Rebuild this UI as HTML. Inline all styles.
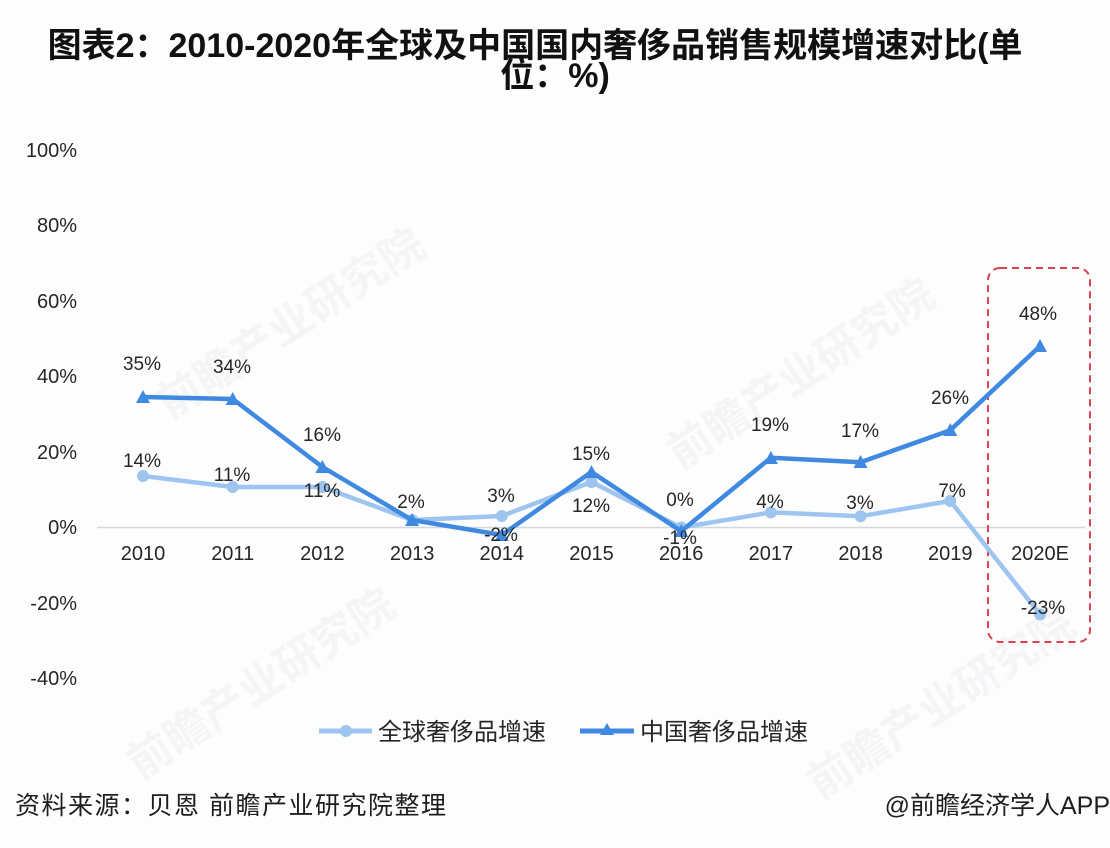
<!DOCTYPE html>
<html>
<head>
<meta charset="utf-8">
<style>
  html,body{margin:0;padding:0;background:#fff;}
  svg{display:block;}
  text{font-family:"Liberation Sans","Noto Sans CJK SC",sans-serif;fill:#262626;}
</style>
</head>
<body>
<svg width="1110" height="848" viewBox="0 0 1110 848" xmlns="http://www.w3.org/2000/svg">
  <rect x="0" y="0" width="1110" height="848" fill="#fdfdfe"/>

  <!-- faint watermarks -->
  <g font-size="44" font-weight="bold">
    <text x="0" y="0" transform="translate(170,420) rotate(-33)" style="fill:#f4f5f7">前瞻产业研究院</text>
    <text x="0" y="0" transform="translate(680,470) rotate(-33)" style="fill:#f4f5f7">前瞻产业研究院</text>
    <text x="0" y="0" transform="translate(140,780) rotate(-33)" style="fill:#f4f5f7">前瞻产业研究院</text>
    <text x="0" y="0" transform="translate(820,800) rotate(-33)" style="fill:#f4f5f7">前瞻产业研究院</text>
  </g>

  <!-- title -->
  <g font-size="34" font-weight="bold">
    <text x="535" y="57" text-anchor="middle" style="fill:#111">图表2：2010-2020年全球及中国国内奢侈品销售规模增速对比(单</text>
    <text x="555" y="87" text-anchor="middle" style="fill:#111">位：%)</text>
  </g>

  <!-- y axis labels -->
  <g font-size="20" text-anchor="end">
    <text x="77" y="157">100%</text>
    <text x="77" y="232">80%</text>
    <text x="77" y="308">60%</text>
    <text x="77" y="383">40%</text>
    <text x="77" y="459">20%</text>
    <text x="77" y="534">0%</text>
    <text x="77" y="610">-20%</text>
    <text x="77" y="685">-40%</text>
  </g>

  <!-- zero axis -->
  <line x1="97" y1="527.5" x2="1085" y2="527.5" stroke="#d3d7df" stroke-width="1.5"/>

  <!-- x labels -->
  <g font-size="20" text-anchor="middle">
    <text x="143" y="560">2010</text>
    <text x="232.7" y="560">2011</text>
    <text x="322.4" y="560">2012</text>
    <text x="412.1" y="560">2013</text>
    <text x="501.8" y="560">2014</text>
    <text x="591.5" y="560">2015</text>
    <text x="681.2" y="560">2016</text>
    <text x="770.9" y="560">2017</text>
    <text x="860.6" y="560">2018</text>
    <text x="950.3" y="560">2019</text>
    <text x="1040" y="560">2020E</text>
  </g>

  <!-- red dashed box -->
  <rect x="988" y="268" width="102" height="374" rx="12" ry="12" fill="none" stroke="#d8444e" stroke-width="2" stroke-dasharray="7 5"/>

  <!-- global series -->
  <polyline fill="none" stroke="#9ec5f0" stroke-width="4.5" stroke-linejoin="round"
    points="143,476 232.7,487 322.4,487 412.1,520 501.8,516 591.5,482 681.2,527.5 770.9,512.4 860.6,516.2 950.3,501 1040,614.4"/>
  <g fill="#9ec5f0">
    <circle cx="143" cy="476" r="6"/>
    <circle cx="232.7" cy="487" r="6"/>
    <circle cx="322.4" cy="487" r="6"/>
    <circle cx="412.1" cy="520" r="6"/>
    <circle cx="501.8" cy="516" r="6"/>
    <circle cx="591.5" cy="482" r="6"/>
    <circle cx="681.2" cy="527.5" r="6"/>
    <circle cx="770.9" cy="512.4" r="6"/>
    <circle cx="860.6" cy="516.2" r="6"/>
    <circle cx="950.3" cy="501" r="6"/>
    <circle cx="1040" cy="614.4" r="6"/>
  </g>

  <!-- china series -->
  <polyline fill="none" stroke="#3f8ae0" stroke-width="4.5" stroke-linejoin="round"
    points="143,397 232.7,399 322.4,467 412.1,520 501.8,535 591.5,472 681.2,531.3 770.9,457.7 860.6,462.2 950.3,430.2 1040,346.1"/>
  <g fill="#3f8ae0">
    <polygon points="143,390 150,403 136,403"/>
    <polygon points="232.7,392 239.7,405 225.7,405"/>
    <polygon points="322.4,460 329.4,473 315.4,473"/>
    <polygon points="412.1,513 419.1,526 405.1,526"/>
    <polygon points="501.8,528 508.8,541 494.8,541"/>
    <polygon points="591.5,465 598.5,478 584.5,478"/>
    <polygon points="681.2,524 688.2,537 674.2,537"/>
    <polygon points="770.9,451 777.9,464 763.9,464"/>
    <polygon points="860.6,455 867.6,468 853.6,468"/>
    <polygon points="950.3,423 957.3,436 943.3,436"/>
    <polygon points="1040,339 1047,352 1033,352"/>
  </g>

  <!-- data labels -->
  <g font-size="19" text-anchor="middle">
    <text x="142" y="370">35%</text>
    <text x="232" y="373">34%</text>
    <text x="322" y="441">16%</text>
    <text x="142" y="467">14%</text>
    <text x="232" y="481">11%</text>
    <text x="322" y="497">11%</text>
    <text x="411" y="508">2%</text>
    <text x="501" y="502">3%</text>
    <text x="501" y="541">-2%</text>
    <text x="591" y="460">15%</text>
    <text x="591" y="512">12%</text>
    <text x="680" y="506">0%</text>
    <text x="680" y="544">-1%</text>
    <text x="770" y="431">19%</text>
    <text x="860" y="437">17%</text>
    <text x="770" y="508">4%</text>
    <text x="860" y="509">3%</text>
    <text x="950" y="404">26%</text>
    <text x="952" y="497">7%</text>
    <text x="1038" y="320">48%</text>
    <text x="1043" y="614">-23%</text>
  </g>

  <!-- legend -->
  <line x1="319" y1="731" x2="372" y2="731" stroke="#9ec5f0" stroke-width="5"/>
  <circle cx="346" cy="731" r="6" fill="#9ec5f0"/>
  <text x="378" y="740" font-size="24">全球奢侈品增速</text>
  <line x1="580" y1="731" x2="634" y2="731" stroke="#3f8ae0" stroke-width="5"/>
  <polygon points="607,723 614,735 600,735" fill="#3f8ae0"/>
  <text x="640" y="740" font-size="24">中国奢侈品增速</text>

  <!-- footer -->
  <text x="15" y="814" font-size="25" letter-spacing="1.5" style="fill:#1e1e1e">资料来源：贝恩 前瞻产业研究院整理</text>
  <text x="1110" y="814" font-size="25" text-anchor="end" style="fill:#1e1e1e">@前瞻经济学人APP</text>
</svg>
</body>
</html>
